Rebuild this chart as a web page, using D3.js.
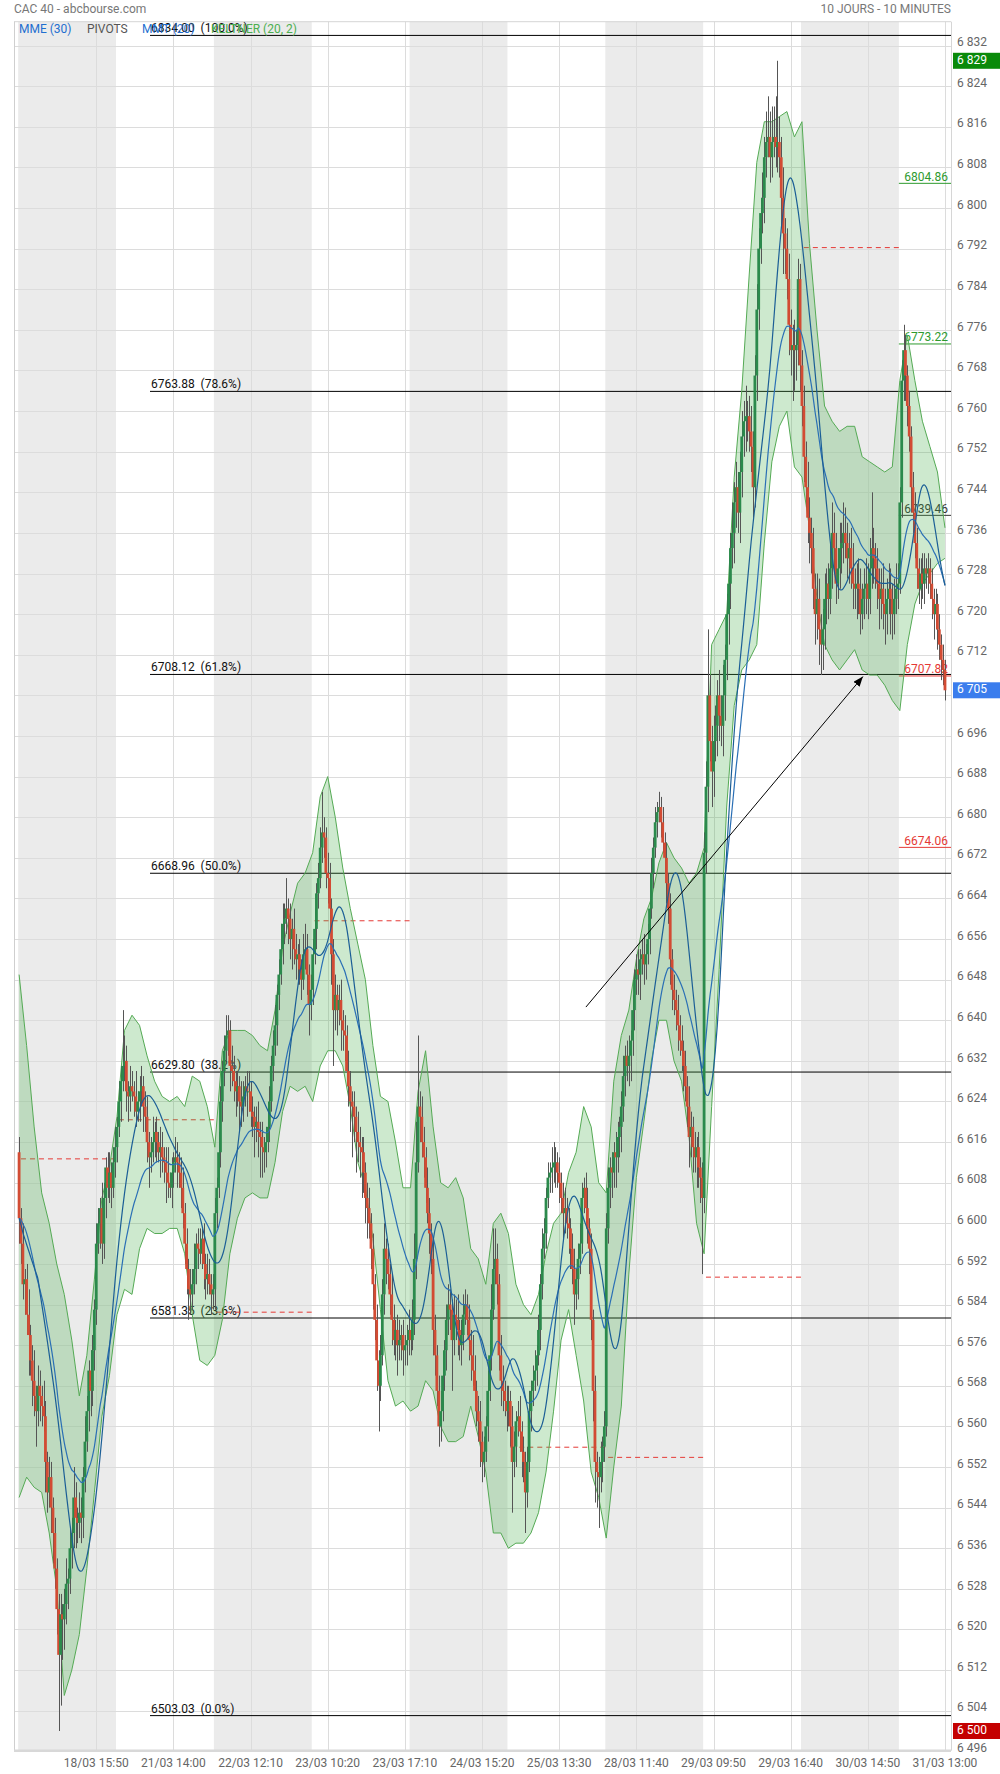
<!DOCTYPE html>
<html><head><meta charset="utf-8">
<script src="https://cdn.jsdelivr.net/npm/d3@7"></script>
<style>
html,body{margin:0;padding:0;background:#fff;}
svg{display:block;font-family:Roboto,"Noto Sans",sans-serif;}
</style></head><body>
<svg id="chart" width="1000" height="1774"></svg>
<script>
// ---------------- DATA ----------------
const title = "CAC 40 - abcbourse.com";
const subtitle = "10 JOURS - 10 MINUTES";
const legendItems = ["MME (30)", "PIVOTS", "MMT (20)", "KELTNER (20, 2)"];
const dayLabels = ["18/03","21/03","22/03","23/03","24/03","25/03","28/03","29/03","30/03","31/03"];
const barsPerDay = 52; // 9:00 -> 17:30, 10 minutes
const firstOpen = 6614;
// closing prices, one per 10-minute bar
const closes = [
// 18/03
6601,6596,6588,6589,6582,6578,6573,6569,6566,6563,6568,6566,6564,6562,6553,6547,6550,6544,6539,6532,6524,6515,6523,6522,6525,6529,6530,6536,6539,6546,6542,6541,6543,6542,6550,6557,6563,6571,6567,6575,6583,6596,6600,6603,6596,6605,6611,6607,6610,6607,6612,6615,
// 21/03
6619,6624,6628,6631,6632,6626,6625,6627,6626,6625,6622,6624,6626,6627,6623,6621,6616,6613,6614,6616,6618,6616,6614,6615,6613,6612,6610,6608,6607,6610,6612,6613,6612,6610,6607,6602,6596,6591,6587,6586,6588,6591,6596,6595,6594,6597,6592,6589,6590,6588,6586,6587,
// 22/03
6602,6607,6614,6624,6630,6634,6637,6638,6631,6630,6628,6626,6627,6624,6623,6625,6627,6626,6626,6622,6621,6619,6620,6618,6617,6615,6614,6616,6619,6624,6631,6635,6639,6645,6649,6654,6659,6660,6662,6660,6656,6658,6654,6652,6653,6650,6648,6653,6654,6649,6643,6646,
// 23/03
6653,6658,6665,6668,6674,6677,6676,6669,6668,6662,6653,6642,6645,6642,6644,6640,6638,6637,6630,6627,6624,6623,6621,6618,6616,6615,6614,6610,6605,6603,6600,6595,6588,6581,6573,6568,6574,6586,6595,6593,6590,6586,6581,6577,6579,6576,6577,6578,6575,6576,6577,6579,
// 24/03
6577,6581,6593,6612,6623,6621,6616,6613,6607,6602,6598,6593,6579,6574,6567,6560,6563,6570,6575,6581,6584,6583,6577,6582,6581,6579,6576,6578,6582,6584,6581,6577,6574,6571,6567,6563,6561,6557,6553,6555,6560,6567,6574,6583,6591,6593,6588,6574,6569,6567,6565,6563,
// 25/03
6565,6560,6553,6556,6561,6562,6559,6555,6553,6547,6553,6563,6567,6569,6571,6574,6579,6588,6595,6598,6605,6609,6610,6611,6612,6612,6610,6608,6605,6602,6603,6600,6599,6595,6591,6586,6589,6593,6596,6605,6607,6603,6599,6595,6581,6567,6553,6551,6550,6553,6556,6560,
// 28/03
6599,6607,6611,6610,6614,6613,6617,6619,6623,6629,6633,6631,6633,6636,6642,6648,6650,6649,6652,6653,6651,6653,6656,6662,6669,6674,6679,6681,6682,6679,6675,6672,6667,6662,6652,6646,6644,6642,6639,6636,6634,6631,6627,6623,6617,6619,6615,6613,6615,6611,6609,6605,
// 29/03
6673,6686,6704,6695,6689,6695,6698,6704,6700,6698,6704,6711,6720,6726,6733,6736,6742,6745,6740,6748,6755,6758,6759,6759,6756,6753,6745,6767,6780,6792,6799,6802,6810,6813,6814,6810,6813,6814,6812,6813,6810,6802,6795,6792,6786,6777,6772,6773,6772,6773,6786,6769,
// 30/03
6761,6751,6745,6739,6736,6733,6725,6720,6723,6717,6714,6717,6723,6726,6723,6729,6736,6733,6726,6729,6733,6734,6736,6734,6731,6733,6729,6726,6725,6726,6725,6720,6723,6725,6726,6723,6729,6733,6731,6729,6726,6723,6725,6722,6720,6723,6725,6723,6720,6723,6725,6726,
// 31/03
6742,6766,6772,6767,6761,6755,6745,6740,6734,6729,6725,6728,6726,6729,6728,6729,6726,6723,6720,6722,6717,6714,6711,6709,6705
];
// upper shadow length above the body (points)
const wickUp = [
3,2,4,2,3,5,2,3,6,2,4,3,2,5,3,2,4,3,2,3,2,3,4,2,3,5,2,4,3,6,3,2,4,3,2,5,3,2,4,3,2,4,3,2,5,3,2,3,4,2,3,4,
2,4,3,11,5,3,2,4,3,2,5,2,3,4,2,3,4,2,3,5,2,3,2,4,3,2,3,5,2,3,2,4,3,2,3,4,2,3,2,4,3,5,2,3,4,2,3,2,4,3,2,3,
3,2,4,3,2,3,4,3,2,4,3,2,3,2,4,3,2,3,4,2,3,2,3,4,2,3,2,3,2,3,2,3,4,2,3,5,4,3,6,2,3,2,4,3,2,3,2,4,5,3,2,3,
3,4,2,3,4,8,3,2,4,3,2,3,4,2,3,4,2,3,2,4,3,2,3,2,4,3,2,3,2,3,4,2,3,2,3,2,4,3,5,2,3,2,4,3,2,3,4,2,3,2,3,4,
2,4,5,8,14,3,4,3,2,4,3,2,4,3,2,3,4,3,2,3,4,3,2,4,3,5,2,3,4,3,2,3,2,4,3,2,3,4,2,3,2,4,3,5,8,6,3,2,4,3,2,3,
3,2,4,3,2,3,4,2,3,2,3,4,2,3,4,2,3,2,4,3,2,3,2,4,4,3,2,3,2,3,4,2,3,2,3,4,2,3,4,3,2,3,4,2,3,2,3,2,3,4,2,3,
3,4,2,3,2,4,3,2,3,4,2,3,4,2,3,2,3,4,2,3,4,2,3,2,3,2,3,2,3,2,3,2,3,2,3,2,3,2,3,2,3,2,3,2,4,3,2,3,2,3,2,3,
4,5,13,4,3,5,4,3,5,4,6,3,4,5,3,6,4,5,3,4,5,4,6,3,4,5,3,4,5,4,3,5,4,6,8,5,7,6,8,16,5,4,6,3,4,5,3,4,5,3,4,3,
3,4,3,5,4,3,4,3,5,4,3,4,5,3,4,5,6,4,3,4,5,4,6,5,4,3,4,5,3,4,5,4,3,4,5,4,6,11,4,3,4,3,4,5,3,4,5,4,3,4,5,4,
3,4,5,3,2,3,2,3,4,3,2,3,4,3,2,3,2,3,2,3,2,3,2,3,2
];
// lower shadow length below the body (points)
const wickDown = [
5,4,3,6,4,8,3,5,4,7,3,5,4,3,6,4,3,5,6,4,5,15,10,8,6,4,5,3,4,3,6,4,3,5,4,3,2,4,5,3,4,3,2,5,4,3,4,2,3,4,2,3,
3,2,4,2,3,4,5,3,2,4,3,2,4,3,5,3,4,6,3,2,3,4,2,5,3,4,6,3,2,4,3,2,5,3,4,3,4,5,6,4,3,2,3,4,2,3,5,4,3,2,4,3,
4,3,2,3,4,3,2,4,5,3,4,5,3,6,4,3,2,5,4,3,4,6,3,5,8,6,4,3,2,3,2,3,2,4,3,2,3,4,3,5,4,6,3,4,5,3,4,2,3,4,6,3,
3,2,4,3,2,3,4,3,5,4,6,11,4,5,3,6,4,5,3,4,6,10,5,8,4,6,9,4,5,6,3,4,5,4,6,9,3,2,4,5,3,4,5,3,4,6,3,4,5,3,4,3,
3,2,3,4,2,5,3,4,3,2,4,3,5,4,3,4,3,2,3,4,3,4,10,3,4,5,3,4,3,2,3,4,5,3,4,3,4,5,4,3,2,3,2,3,2,3,4,3,5,4,3,4,
3,4,10,3,4,3,4,5,4,8,3,2,4,3,2,3,2,4,3,2,3,2,3,4,3,5,3,4,3,5,4,3,5,4,3,6,3,4,3,2,3,4,3,5,4,6,8,7,10,3,4,3,
2,3,4,5,3,6,3,4,5,3,4,3,4,5,3,4,3,4,5,3,4,3,2,3,2,3,2,3,2,3,2,3,4,3,5,4,3,4,5,3,4,5,3,4,6,4,5,3,6,4,5,15,
3,4,5,4,7,5,4,6,5,4,6,5,4,6,5,4,6,5,4,6,5,4,6,5,4,5,6,4,5,4,3,4,5,4,3,5,4,3,4,5,4,6,8,5,4,6,5,10,8,6,4,5,
4,5,4,5,6,5,4,6,5,7,6,5,4,5,4,3,4,5,4,3,4,5,4,3,4,5,4,5,4,6,5,4,3,4,5,4,3,4,5,4,5,6,4,5,6,4,3,7,5,4,3,4,
2,3,4,5,4,3,5,4,3,4,3,4,3,4,3,4,3,4,5,3,4,3,4,3,2
];
// Keltner (20,2) channel, read every 4 bars
const bandStep = 4;
const keltnerUpper = [
6649,6635,6619,6606,6600,6592,6586,6577,6566,6574,
6589,6605,6611,6621,6638,6641,6639,6633,6628,6625,
6624,6625,6623,6629,6628,6623,6615,6634,6638,6638,
6638,6637,6635,6634,6642,6654,6661,6667,6669,6673,
6684,6688,6680,6670,6662,6655,6648,6635,6625,6624,
6616,6607,6607,6626,6634,6619,6608,6607,6609,6605,
6595,6593,6588,6600,6602,6598,6588,6584,6582,6586,
6594,6600,6602,6610,6614,6623,6619,6608,6606,6628,
6637,6642,6652,6660,6664,6671,6675,6672,6670,6667,
6669,6674,6714,6717,6720,6747,6764,6787,6809,6817,
6817,6818,6819,6814,6817,6793,6776,6761,6758,6756,
6757,6757,6751,6750,6749,6748,6749,6766,6775,6766,
6758,6753,6748,6737
];
const keltnerLower = [
6546,6550,6548,6547,6539,6528,6507,6512,6519,6532,
6547,6562,6570,6582,6587,6586,6595,6599,6598,6598,
6599,6599,6594,6582,6573,6572,6574,6581,6594,6601,
6605,6606,6605,6605,6612,6622,6627,6626,6627,6624,
6631,6634,6634,6631,6623,6612,6607,6597,6583,6569,
6564,6565,6563,6564,6569,6567,6560,6557,6557,6558,
6564,6558,6551,6539,6539,6536,6537,6537,6539,6543,
6551,6563,6577,6583,6574,6565,6551,6546,6538,6552,
6564,6590,6609,6620,6632,6640,6640,6632,6628,6617,
6600,6594,6623,6650,6682,6702,6709,6711,6714,6734,
6750,6757,6760,6749,6747,6737,6723,6714,6711,6709,
6711,6713,6709,6708,6708,6706,6703,6701,6714,6722,
6726,6728,6730,6731
];
const priceTicks = [6496,6504,6512,6520,6528,6536,6544,6552,6560,6568,6576,6584,6592,6600,6608,6616,6624,6632,6640,6648,6656,6664,6672,6680,6688,6696,6704,6712,6720,6728,6736,6744,6752,6760,6768,6776,6784,6792,6800,6808,6816,6824,6832];
const timeTicks = [41,82,123,164,205,246,287,328,369,410,451,492];
const timeTickLabels = ["18/03 15:50","21/03 14:00","22/03 12:10","23/03 10:20","23/03 17:10","24/03 15:20","25/03 13:30","28/03 11:40","29/03 09:50","29/03 16:40","30/03 14:50","31/03 13:00"];
const fibValues = [6834.00, 6763.88, 6708.12, 6668.96, 6629.80, 6581.35, 6503.03];
const fibPercents = ["100.0%","78.6%","61.8%","50.0%","38.2%","23.6%","0.0%"];
const pivotDays = [0,1,2,3,5,6,7,8];
const pivotValues = [6612.7,6620.4,6582.5,6659.6,6555.9,6553.9,6589.4,6792.2];
const todayLevels = [6804.86,6773.22,6739.46,6707.82,6674.06];
const todayKinds = ["R","R","P","S","S"];
const arrowFrom = [301.2, 6642.6]; // [bar index, price]
const arrowTo = [448.4, 6707.7];

// ---------------- CHART ----------------
const svg = d3.select("#chart");
const P = {left:14, right:951, top:21.7, bottom:1750.7};
const x = d3.scaleLinear().domain([-2.71, 495.2]).range([P.left, P.right]);
const y = d3.scaleLinear().domain([6496, 6836.7]).range([1751.3, 21.7]);
const fmt = v => String(Math.round(v)).replace(/\B(?=(\d{3})+(?!\d))/g, " ");

const candles = closes.map((c,i)=>{
  const o = i===0 ? firstOpen : closes[i-1];
  return {i, o, c, h: Math.max(o,c)+wickUp[i], l: Math.min(o,c)-wickDown[i]};
});

svg.append("defs").append("clipPath").attr("id","plotclip")
  .append("rect").attr("x",P.left).attr("y",P.top).attr("width",P.right-P.left).attr("height",P.bottom-P.top);
svg.select("defs").append("marker").attr("id","arrowhead").attr("viewBox","0 0 10 8")
  .attr("refX",10).attr("refY",4).attr("markerWidth",10).attr("markerHeight",8).attr("orient","auto")
  .attr("markerUnits","userSpaceOnUse")
  .append("path").attr("d","M0,0 L10,4 L0,8 Z").attr("fill","#000");

// day shading
const gBg = svg.append("g");
dayLabels.forEach((d,k)=>{
  if(k%2===0){
    const x0 = Math.max(P.left, x(k*barsPerDay-0.5));
    const x1 = Math.min(P.right, x((k+1)*barsPerDay-0.5));
    gBg.append("rect").attr("x",x0).attr("y",P.top).attr("width",x1-x0).attr("height",P.bottom-P.top).attr("fill","#ebebeb");
  }
});
// grid
const gGrid = svg.append("g").attr("stroke","#dcdcdc").attr("stroke-width",1);
priceTicks.forEach(v=>{ if(y(v)>P.top && y(v)<P.bottom-1) gGrid.append("line").attr("x1",P.left).attr("x2",P.right).attr("y1",Math.round(y(v))+0.5).attr("y2",Math.round(y(v))+0.5); });
timeTicks.forEach(t=>{ gGrid.append("line").attr("x1",Math.round(x(t))+0.5).attr("x2",Math.round(x(t))+0.5).attr("y1",P.top).attr("y2",P.bottom); });
// frame
svg.append("line").attr("x1",P.left).attr("x2",P.right).attr("y1",P.top).attr("y2",P.top).attr("stroke","#d6d6d6");
svg.append("line").attr("x1",P.left+0.5).attr("x2",P.left+0.5).attr("y1",P.top).attr("y2",P.bottom).attr("stroke","#cfcfcf");
svg.append("line").attr("x1",P.right+0.5).attr("x2",P.right+0.5).attr("y1",P.top).attr("y2",P.bottom).attr("stroke","#d6d6d6");
svg.append("line").attr("x1",P.left).attr("x2",P.right).attr("y1",P.bottom).attr("y2",P.bottom).attr("stroke","#d8d8d8").attr("stroke-width",2.5);

const gPlot = svg.append("g").attr("clip-path","url(#plotclip)");

// Fibonacci retracement levels
const gFib = gPlot.append("g");
fibValues.forEach((v,k)=>{
  gFib.append("line").attr("x1",150).attr("x2",P.right).attr("y1",y(v)).attr("y2",y(v)).attr("stroke","#000").attr("stroke-width",1);
  gFib.append("text").attr("x",151).attr("y",y(v)-3).attr("font-size",12).attr("fill","#111")
    .style("white-space","pre").text(v.toFixed(2)+"  ("+fibPercents[k]+")");
});
// pivots of previous days
pivotDays.forEach((d,k)=>{
  gPlot.append("line").attr("x1",x(d*barsPerDay+1)).attr("x2",x((d+1)*barsPerDay-0.5))
    .attr("y1",y(pivotValues[k])).attr("y2",y(pivotValues[k]))
    .attr("stroke","#e53935").attr("stroke-width",1).attr("stroke-dasharray","5,4");
});
// today's pivot levels
const kindColor = {R:"#2e9a2e", P:"#333", S:"#e53935"};
todayLevels.forEach((v,k)=>{
  const c = kindColor[todayKinds[k]];
  gPlot.append("line").attr("x1",x(9*barsPerDay-0.5)).attr("x2",P.right).attr("y1",y(v)).attr("y2",y(v)).attr("stroke",c).attr("stroke-width",1);
  gPlot.append("text").attr("x",P.right-3).attr("y",y(v)-2.5).attr("text-anchor","end").attr("font-size",12).attr("fill",c).text(v.toFixed(2));
});

// Keltner channel
const bandPts = keltnerUpper.map((u,k)=>({i:k*bandStep, u, l:keltnerLower[k]}));
gPlot.append("path").datum(bandPts)
  .attr("d", d3.area().x(d=>x(d.i)).y0(d=>y(d.l)).y1(d=>y(d.u)))
  .attr("fill","rgba(76,175,80,0.28)");
["u","l"].forEach(key=>{
  gPlot.append("path").datum(bandPts).attr("d", d3.line().x(d=>x(d.i)).y(d=>y(d[key])))
    .attr("fill","none").attr("stroke","#55aa55").attr("stroke-width",1);
});

// candles
const gC = gPlot.append("g");
gC.selectAll("line.w").data(candles).join("line").attr("class","w")
  .attr("x1",d=>Math.round(x(d.i))+0.5).attr("x2",d=>Math.round(x(d.i))+0.5)
  .attr("y1",d=>y(d.h)).attr("y2",d=>y(d.l)).attr("stroke","#555").attr("stroke-width",1);
gC.selectAll("rect.b").data(candles).join("rect").attr("class","b")
  .attr("x",d=>x(d.i)-1.4).attr("width",2.8)
  .attr("y",d=>y(Math.max(d.o,d.c)))
  .attr("height",d=>Math.max(1, Math.abs(y(d.o)-y(d.c))))
  .attr("fill",d=>d.c>=d.o ? "#2b8a4c" : "#d24b33");

// moving averages (computed from closes)
const kE = 2/31; const mme = [];
closes.forEach((c,i)=>{ mme.push(i===0 ? c : c*kE + mme[i-1]*(1-kE)); });
const sma = (arr,n)=>arr.map((v,i)=>{ const s = arr.slice(Math.max(0,i-n+1), i+1); return d3.mean(s); });
const mmt = sma(sma(closes,10),11);
[[mme,"#2a6fb5"],[mmt,"#1b5e96"]].forEach(([arr,col])=>{
  gPlot.append("path").datum(arr).attr("d", d3.line().x((d,i)=>x(i)).y(d=>y(d)).curve(d3.curveMonotoneX))
    .attr("fill","none").attr("stroke",col).attr("stroke-width",1.2);
});

// arrow annotation
gPlot.append("line").attr("x1",x(arrowFrom[0])).attr("y1",y(arrowFrom[1]))
  .attr("x2",x(arrowTo[0])).attr("y2",y(arrowTo[1])).attr("stroke","#000").attr("stroke-width",1)
  .attr("marker-end","url(#arrowhead)");

// right price axis
const lastClose = closes[closes.length-1];
const hi = d3.max(candles,d=>d.h), lo = d3.min(candles,d=>d.l);
const boxes = [[hi,"#0a8a0a"],[lastClose,"#3b7ded"],[lo,"#c40000"]];
const gAx = svg.append("g").attr("font-size",12).attr("fill","#666");
priceTicks.forEach(v=>{
  if(boxes.some(b=>Math.abs(y(b[0])-y(v))<9)) return;
  gAx.append("text").attr("x",957).attr("y",y(v)-2.5).attr("dominant-baseline","middle").text(fmt(v));
});
boxes.forEach(([v,col])=>{
  svg.append("rect").attr("x",953).attr("y",y(v)-8).attr("width",47).attr("height",16).attr("fill",col);
  svg.append("text").attr("x",957).attr("y",y(v)).attr("dominant-baseline","middle").attr("font-size",12).attr("fill","#fff").text(fmt(v));
});
// bottom time axis
timeTicks.forEach((t,k)=>{
  gAx.append("text").attr("x",x(t)).attr("y",1767).attr("text-anchor","middle").text(timeTickLabels[k]);
});
// titles
svg.append("text").attr("x",14).attr("y",12.5).attr("font-size",12).attr("fill","#777").text(title);
svg.append("text").attr("x",951).attr("y",12.5).attr("text-anchor","end").attr("font-size",12).attr("fill","#777").text(subtitle);
// legend
const legendX = [19, 87, 142, 211];
const legendCol = ["#1f6fd0","#555","#1f6fd0","#4caf50"];
legendItems.forEach((t,k)=>{
  svg.append("text").attr("x",legendX[k]).attr("y",33).attr("font-size",12).attr("fill",legendCol[k]).text(t);
});
</script>
</body></html>
